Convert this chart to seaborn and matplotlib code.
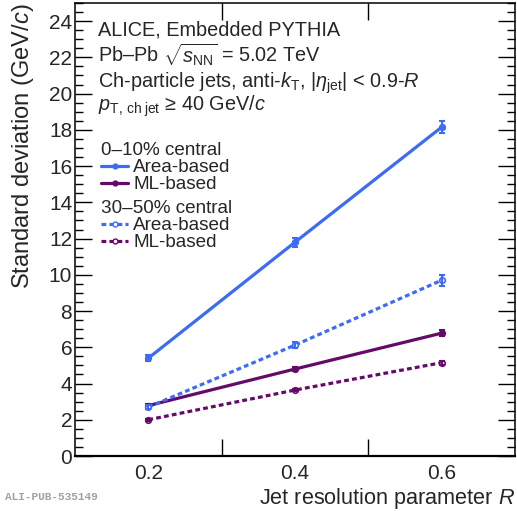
import matplotlib
matplotlib.use("Agg")
import matplotlib.pyplot as plt
import seaborn as sns
import pandas as pd
import numpy as np
from matplotlib.lines import Line2D

# ---- data ----
R_values = [0.2, 0.4, 0.6]
area_central = [5.4, 11.8, 18.15]
area_central_err = [0.15, 0.25, 0.35]
ml_central = [2.78, 4.8, 6.78]
ml_central_err = [0.08, 0.1, 0.15]
area_semi = [2.7, 6.12, 9.7]
area_semi_err = [0.1, 0.15, 0.3]
ml_semi = [2.0, 3.64, 5.15]
ml_semi_err = [0.05, 0.08, 0.12]

x_tick_labels = ["0.2", "0.4", "0.6"]

BLUE = "#3d6bf5"
PURPLE = "#650a69"

sns.set_theme(style="ticks")
plt.rcParams['font.family'] = ['Liberation Sans', 'DejaVu Sans']
plt.rcParams['mathtext.fontset'] = 'custom'
plt.rcParams['mathtext.rm'] = 'Liberation Sans'
plt.rcParams['mathtext.it'] = 'Liberation Sans:italic'
plt.rcParams['mathtext.bf'] = 'Liberation Sans:bold'

fig = plt.figure(figsize=(5.17, 5.11), dpi=100)
ax = fig.add_axes([75/517, 1-456/511, 440/517, 453/511])

DASH = (0, (1.5, 1.0))
series = [
    ("0–10%", "Area-based", area_central, area_central_err, BLUE, "-", True),
    ("0–10%", "ML-based", ml_central, ml_central_err, PURPLE, "-", True),
    ("30–50%", "Area-based", area_semi, area_semi_err, BLUE, DASH, False),
    ("30–50%", "ML-based", ml_semi, ml_semi_err, PURPLE, DASH, False),
]

lw = 2.3
handles = []
for cent, meth, vals, errs, col, ls, filled in series:
    df = pd.DataFrame({"R": R_values, "sd": vals})
    sns.lineplot(data=df, x="R", y="sd", ax=ax, color=col, linewidth=lw,
                 linestyle=ls, marker="o", markersize=4.0,
                 markerfacecolor=col if filled else "white",
                 markeredgecolor=col, markeredgewidth=1.2)
    ax.errorbar(R_values, vals, yerr=errs, fmt="none", ecolor=col,
                elinewidth=1.5, capsize=2.5, capthick=1.5)
    h = Line2D([], [], color=col, linewidth=lw, linestyle=ls, marker="o",
               markersize=3.5, markerfacecolor=col if filled else "white",
               markeredgecolor=col, markeredgewidth=1.0)
    handles.append((h, meth))

ax.set_xlim(0.1, 0.7)
ax.set_ylim(0, 25)

ax.set_xticks(R_values)
ax.set_xticklabels(x_tick_labels)
ax.set_xticks([0.3, 0.5], minor=True)
ax.tick_params(axis="x", which="major", length=0, labelsize=15, pad=6)
ax.tick_params(axis="x", which="minor", length=12, width=1.0, direction="in",
               top=True, bottom=True, color="black")
ax.set_yticks(np.arange(0, 25, 2))
ax.set_yticks(np.arange(0, 25.01, 0.5), minor=True)
ax.tick_params(axis="y", which="major", length=12, width=1.0, direction="in",
               left=True, right=True, labelsize=15, pad=2, color="black")
ax.tick_params(axis="y", which="minor", length=6, width=1.0, direction="in",
               left=True, right=True, color="black")
for s in ax.spines.values():
    s.set_linewidth(1.1)
    s.set_color("black")
ax.spines["bottom"].set_linewidth(1.6)

ax.set_xlabel("Jet resolution parameter $R$", fontsize=15.6, loc="right", labelpad=2)
ax.set_ylabel("Standard deviation (GeV/$c$)", fontsize=17, loc="top")
ax.yaxis.set_label_coords(36/517, 1-3/511, transform=fig.transFigure)

# annotation text
tkw = dict(fontsize=14.3, ha="left", va="baseline")
fig.text(98/517, 1-35/511, "ALICE, Embedded PYTHIA", **tkw)
fig.text(98/517, 1-62/511, r"Pb–Pb $\sqrt{s_{\rm NN}}$ = 5.02 TeV", **tkw)
fig.text(98/517, 1-88/511, r"Ch-particle jets, anti-$k_{\rm T}$, $|\eta_{\rm jet}|$ < 0.9-$R$", **tkw)
fig.text(98/517, 1-111/511, r"$p_{\rm T,\,ch\;jet}$ ≥ 40 GeV/$c$", **tkw)

lkw = dict(frameon=False, fontsize=13.6, handlelength=1.45, handletextpad=0.25,
           labelspacing=0.0, borderaxespad=0, borderpad=0,
           title_fontsize=13.6, alignment="left")
leg1 = ax.legend([h for h, _ in handles[:2]], [m for _, m in handles[:2]],
                 title="0–10% central", loc="upper left",
                 bbox_to_anchor=(101/517, 1-142/511),
                 bbox_transform=fig.transFigure, **lkw)
ax.add_artist(leg1)
leg2 = ax.legend([h for h, _ in handles[2:]], [m for _, m in handles[2:]],
                 title="30–50% central", loc="upper left",
                 bbox_to_anchor=(101/517, 1-200/511),
                 bbox_transform=fig.transFigure, **lkw)

fig.text(5/517, 1-500/511, "ALI-PUB-535149", fontsize=8, color="#a0a0a0",
         family="Liberation Mono", weight="bold", ha="left", va="baseline")

fig.savefig("out.png", dpi=100)
